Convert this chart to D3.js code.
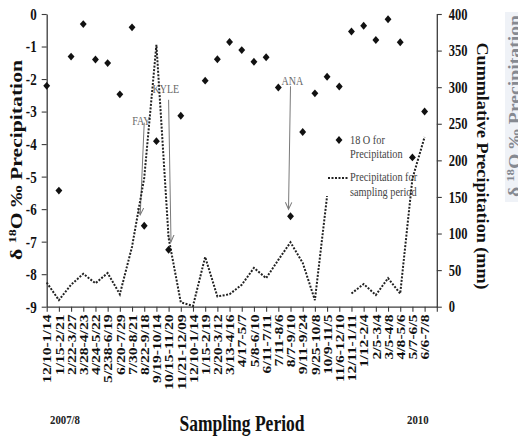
<!DOCTYPE html>
<html>
<head>
<meta charset="utf-8">
<script src="https://cdn.jsdelivr.net/npm/d3@7"></script>
<style>
  html, body { margin: 0; padding: 0; background: #fff; }
  svg { display: block; }
</style>
</head>
<body>
<svg id="chart" width="518" height="445"></svg>
<script>
// Sampling periods (2007/8 through 2010)
const periods = [
  "12/10-1/14", "1/15-2/21", "2/22-3/27", "3/28-4/23", "4/24-5/22", "5/238-6/19",
  "6/20-7/29", "7/30-8/21", "8/22-9/18", "9/19-10/14", "10/15-11/20", "11/21-12/09",
  "12/10-1/14", "1/15-2/19", "2/20-3/12", "3/13-4/16", "4/17-5/7", "5/8-6/10",
  "6/11-7/11", "7/11-8/6", "8/7-9/10", "9/11-9/24", "9/25-10/8", "10/9-11/5",
  "11/6-12/10", "12/11-1/11", "1/12-2/4", "2/5-3/4", "3/5-4/8", "4/8-5/6",
  "5/7-6/5", "6/6-7/8"
];

// δ18O of precipitation (‰), one value per period (null = no sample)
const delta18O = [
  -2.21, -5.43, -1.31, -0.31, -1.40, -1.51, -2.47, -0.41, -6.51, -3.91, -7.25, -3.13,
  null, -2.05, -1.39, -0.86, -1.11, -1.47, -1.33, -2.26, -6.22, -3.63, -2.44, -1.93,
  -2.23, -0.54, -0.36, -0.80, -0.16, -0.87, -4.41, -3.00
];

// Precipitation for each sampling period (mm)
const rainfall = [
  33, 9, 30, 45, 32, 46, 17, 82, 176, 358, 94, 6,
  1, 68, 14, 17, 30, 53, 39, 64, 88, 60, 9, 151,
  null, 18, 31, 16, 39, 18, 175, 232
];

const leftTicks = [0, -1, -2, -3, -4, -5, -6, -7, -8, -9];
const rightTicks = [0, 50, 100, 150, 200, 250, 300, 350, 400];

// Tropical storms and the period each one is tied to
const storms = [
  { name: "FAY", period: 8 },
  { name: "KYLE", period: 10 },
  { name: "ANA", period: 20 }
];

// ---------------------------------------------------------------------------
const serif = '"Liberation Serif", "Times New Roman", Times, serif';
const stretch = 1.3;          // tall, narrow lettering
const axisColor = "#3c3c3c";
const plot = { left: 46.7, right: 436.8, top: 14, bottom: 306.7 };

const svg = d3.select("#chart").attr("font-family", serif);

const x = d3.scaleLinear().domain([0, periods.length]).range([plot.left, plot.right]);
const yL = d3.scaleLinear().domain([-9, 0]).range([plot.bottom, plot.top]);
const yR = d3.scaleLinear().domain([0, 400]).range([plot.bottom, plot.top]);

function styleAxis(g, size) {
  g.attr("font-family", serif).attr("font-size", size).attr("font-weight", "bold");
  g.select(".domain").attr("stroke", axisColor).attr("stroke-width", 1.3);
  g.selectAll(".tick line").attr("stroke", axisColor).attr("stroke-width", 1.1);
  g.selectAll(".tick text").attr("fill", "#111");
}

// left axis: δ18O
const gL = svg.append("g")
  .attr("transform", `translate(${plot.left},0)`)
  .call(d3.axisLeft(yL).tickValues(leftTicks).tickFormat(d => String(d))
    .tickSize(5).tickSizeOuter(0).tickPadding(5));
styleAxis(gL, 13);
gL.selectAll(".tick text").attr("transform", `scale(1,${stretch})`);

// right axis: precipitation
const gR = svg.append("g")
  .attr("transform", `translate(${plot.right},0)`)
  .call(d3.axisRight(yR).tickValues(rightTicks).tickFormat(d => String(d))
    .tickSize(5).tickSizeOuter(0).tickPadding(7));
styleAxis(gR, 12.5);
gR.selectAll(".tick text").attr("transform", `scale(1,${stretch})`);

// bottom axis: sampling periods, labels read upward
const gB = svg.append("g")
  .attr("transform", `translate(0,${plot.bottom})`)
  .call(d3.axisBottom(x).tickValues(d3.range(periods.length + 1))
    .tickFormat(i => periods[i] || "").tickSize(5).tickSizeOuter(0));
styleAxis(gB, 12);
gB.selectAll(".tick text")
  .attr("text-anchor", "end")
  .attr("x", -6).attr("y", 0).attr("dy", "0.35em")
  .attr("transform", `scale(1,${stretch}) rotate(-90)`);

// axis titles
const leftTitle = svg.append("text")
  .attr("transform", "translate(22,160) rotate(-90)")
  .attr("text-anchor", "middle")
  .attr("font-size", 17).attr("font-weight", "bold").attr("fill", "#111")
  .attr("textLength", 200).attr("lengthAdjust", "spacingAndGlyphs");
leftTitle.append("tspan").text("δ ");
leftTitle.append("tspan").attr("font-size", 11).attr("baseline-shift", "super").text("18");
leftTitle.append("tspan").text("O ‰ Precipitation");

svg.append("text")
  .attr("transform", "translate(477,166) rotate(90)")
  .attr("text-anchor", "middle")
  .attr("font-size", 17).attr("font-weight", "bold").attr("fill", "#111")
  .attr("textLength", 247).attr("lengthAdjust", "spacingAndGlyphs")
  .text("Cummlative Precipitation (mm)");

// faded duplicate of the δ18O title at the right margin
svg.append("rect").attr("x", 505).attr("y", 12).attr("width", 13).attr("height", 190)
  .attr("fill", "#eff2f7");
const ghost = svg.append("text")
  .attr("transform", "translate(520,106) rotate(-90)")
  .attr("text-anchor", "middle")
  .attr("font-size", 17).attr("font-weight", "bold").attr("fill", "#6b6f78")
  .attr("opacity", 0.8)
  .attr("textLength", 182).attr("lengthAdjust", "spacingAndGlyphs");
ghost.append("tspan").text("δ ");
ghost.append("tspan").attr("font-size", 11).attr("baseline-shift", "super").text("18");
ghost.append("tspan").text("O ‰ Precipitation");

svg.append("text")
  .attr("transform", `translate(242,431) scale(1,${stretch})`)
  .attr("text-anchor", "middle")
  .attr("font-size", 17.5).attr("font-weight", "bold").attr("fill", "#111")
  .attr("textLength", 125).attr("lengthAdjust", "spacingAndGlyphs")
  .text("Sampling Period");

[["2007/8", 50], ["2010", 407]].forEach(([t, px]) => {
  svg.append("text")
    .attr("transform", `translate(${px},424) scale(1,1.2)`)
    .attr("font-size", 10.8).attr("font-weight", "bold").attr("fill", "#222")
    .text(t);
});

// legend
const legend = svg.append("g").attr("font-size", 10.3).attr("fill", "#444");
legend.append("path")
  .attr("d", d3.symbol(d3.symbolDiamond2, 30)())
  .attr("transform", "translate(339,140) scale(1,1.15)")
  .attr("fill", "#111");
[["18 O for", 144], ["Precipitation", 158], ["Precipitation for", 181], ["sampling period", 196]]
  .forEach(([t, by]) => {
    legend.append("text")
      .attr("transform", `translate(350,${by}) scale(1,1.2)`)
      .text(t);
  });
legend.append("line")
  .attr("x1", 328).attr("x2", 349).attr("y1", 178).attr("y2", 178)
  .attr("stroke", "#222").attr("stroke-width", 2).attr("stroke-dasharray", "2 1.5");

// storm annotations
const defs = svg.append("defs");
defs.append("marker")
  .attr("id", "head").attr("markerUnits", "userSpaceOnUse")
  .attr("markerWidth", 10).attr("markerHeight", 10)
  .attr("refX", 7).attr("refY", 4).attr("orient", "auto")
  .append("path").attr("d", "M0,0.8 L7,4 L0,7.2")
  .attr("fill", "none").attr("stroke", "#7a7a7a").attr("stroke-width", 1);

const stormLayout = {
  FAY:  { label: [-12, -101], tail: [0, -103], tip: [-4, -11] },
  KYLE: { label: [-16, -157], tail: [0, -150], tip: [2.4, -8] },
  ANA:  { label: [-9, -131], tail: [0, -130], tip: [-2, -7] }
};
storms.forEach(s => {
  const px = x(s.period), py = yL(delta18O[s.period]);
  const L = stormLayout[s.name];
  svg.append("line")
    .attr("x1", px + L.tail[0]).attr("y1", py + L.tail[1])
    .attr("x2", px + L.tip[0]).attr("y2", py + L.tip[1])
    .attr("stroke", "#7a7a7a").attr("stroke-width", 1)
    .attr("marker-end", "url(#head)");
  svg.append("text")
    .attr("transform", `translate(${px + L.label[0]},${py + L.label[1]}) scale(1,1.25)`)
    .attr("font-size", 10).attr("fill", "#666")
    .text(s.name);
});

// precipitation per sampling period (dotted)
const rainPts = rainfall.map((v, i) => ({ i, v }));
svg.append("path")
  .datum(rainPts)
  .attr("d", d3.line().defined(d => d.v != null).x(d => x(d.i)).y(d => yR(d.v)))
  .attr("fill", "none").attr("stroke", "#222").attr("stroke-width", 2)
  .attr("stroke-dasharray", "2 1.5");

// δ18O markers
svg.append("g").selectAll("path")
  .data(delta18O.map((v, i) => ({ i, v })).filter(d => d.v != null))
  .join("path")
  .attr("d", d3.symbol(d3.symbolDiamond2, 30)())
  .attr("transform", d => `translate(${x(d.i)},${yL(d.v)}) scale(1,1.15)`)
  .attr("fill", "#111");
</script>
</body>
</html>
